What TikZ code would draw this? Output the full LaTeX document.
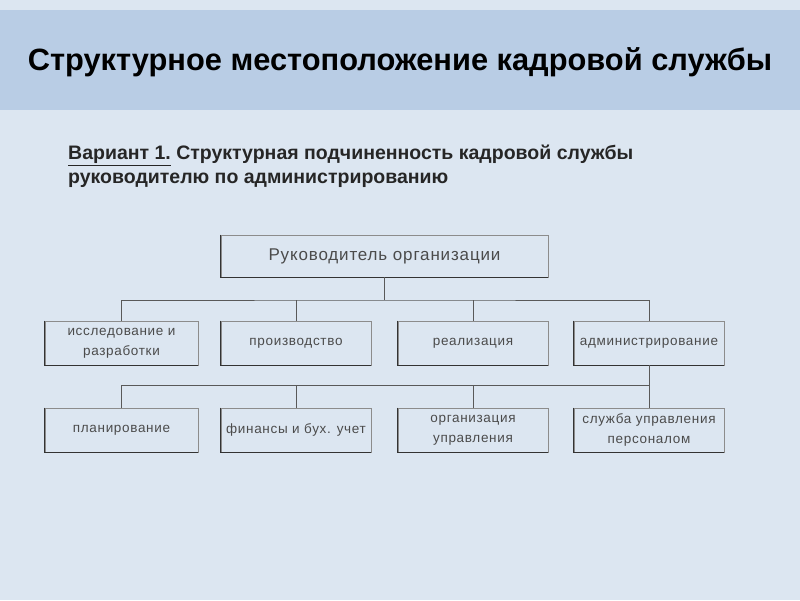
\documentclass[tikz,border=0pt]{standalone}
\usepackage{fontspec}
\setmainfont{Liberation Sans}
\newfontfamily\blokshrift[LetterSpace=5]{Liberation Sans}
\usetikzlibrary{positioning}
\definecolor{fon}{RGB}{220,230,241}
\definecolor{polosa}{RGB}{185,205,229}
\definecolor{ramka}{RGB}{140,140,140}
\definecolor{tekst}{RGB}{75,75,75}
\tikzset{
  blok/.style={draw=ramka,line width=0.8pt,minimum width=150,minimum height=44,
    inner sep=1pt,align=center,text=tekst,font=\blokshrift\fontsize{13.5}{20}\selectfont},
  ten/.style={draw=black!80,line width=1.3pt},
  svyaz/.style={draw=black!65,line width=0.9pt}
}
\begin{document}
\begin{tikzpicture}[x=1pt,y=-1pt]
\pgfmathsetmacro{\rdva}{343}
\pgfmathsetmacro{\rtri}{430}
\useasboundingbox[fill=fon](0,0)rectangle(800,600);
\fill[polosa](0,10)rectangle(800,110);
\node[font=\bfseries\fontsize{30.8}{34}\selectfont](zag)at(400,62){Структурное местоположение кадровой службы};
\node[anchor=north west,align=left,inner sep=0pt,text=black!85,
  font=\bfseries\fontsize{19.5}{24}\selectfont](var)at(68,145)
  {\underline{Вариант 1.} Структурная подчиненность кадровой службы\\руководителю по администрированию};
% верхний блок
\node[blok,minimum width=327,minimum height=42,font=\blokshrift\fontsize{17}{20}\selectfont](ruk)at(384.5,256){Руководитель организации};
% второй ряд
\node[blok,minimum width=153](isl)at(121.5,\rdva){исследование и\\разработки};
\node[blok](pro)at(296,\rdva){производство};
\node[blok](rea)at(473,\rdva){реализация};
\node[blok](adm)at(649,\rdva){администрирование};
% третий ряд
\node[blok,minimum width=153](pla)at(121.5,\rtri){планирование};
\node[blok](fin)at(296,\rtri){финансы и бух. учет};
\node[blok](org)at(473,\rtri){организация\\управления};
\node[blok](slu)at(649,\rtri){служба управления\\персоналом};
\foreach \b in {ruk,isl,pro,rea,adm,pla,fin,org,slu}
  \draw[ten](\b.north west)|-(\b.south east);
% связи
\coordinate(shina1)at(384.5,300);
\coordinate(shina2)at(649,385);
\draw[svyaz](ruk)--(shina1);
\draw[svyaz](isl.north)|-(shina1)-|(adm.north);
\draw[svyaz](pro.north)--(pro.north|-shina1);
\draw[svyaz](rea.north)--(rea.north|-shina1);
\draw[svyaz](adm)--(slu);
\draw[svyaz](shina2)-|(pla.north);
\draw[svyaz](fin.north)--(fin.north|-shina2);
\draw[svyaz](org.north)--(org.north|-shina2);
\end{tikzpicture}
\end{document}
